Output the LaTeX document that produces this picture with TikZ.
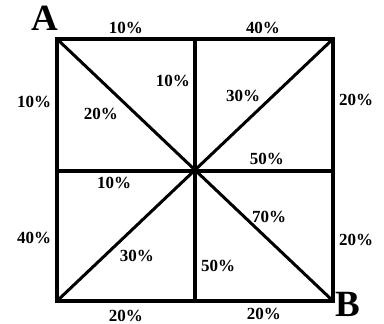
\documentclass[tikz,border=0pt]{standalone}
\usepackage{fontspec}
\setmainfont{Liberation Serif}
\begin{document}
\begin{tikzpicture}[x=1pt,y=-1pt,
  edge/.style={line width=4pt},
  diag/.style={line width=3pt},
  lbl/.style={font=\fontsize{17}{17}\selectfont\bfseries, inner sep=0pt},
  corner/.style={font=\fontsize{37}{37}\selectfont\bfseries, inner sep=0pt}]
\useasboundingbox (0,0) rectangle (384,324);
\coordinate (tl) at (57,39);
\coordinate (tr) at (333,39);
\coordinate (bl) at (57,301);
\coordinate (br) at (333,301);
\coordinate (c) at (195,171);
\coordinate (tm) at (195,39);
\coordinate (bm) at (195,301);
\coordinate (lm) at (57,171);
\coordinate (rm) at (333,171);
\draw[diag,line cap=round] (tl) -- (br);
\draw[diag,line cap=round] (bl) -- (tr);
\draw[edge] (tm) -- (bm);
\draw[edge] (lm) -- (rm);
\draw[edge,line join=miter] (tl) -- (tr) -- (br) -- (bl) -- cycle;
\node[corner] (A) at (45,18) {A};
\node[corner] (B) at (348,304) {B};
\node[lbl] (t1) at (126,28) {10\%};
\node[lbl] (t2) at (263,28) {40\%};
\node[lbl] (l1) at (34,102) {10\%};
\node[lbl] (l2) at (34,238) {40\%};
\node[lbl] (r1) at (356,100) {20\%};
\node[lbl] (r2) at (356,240) {20\%};
\node[lbl] (b1) at (126,316) {20\%};
\node[lbl] (b2) at (264,314) {20\%};
\node[lbl] (i1) at (173,81) {10\%};
\node[lbl] (i2) at (101,114) {20\%};
\node[lbl] (i3) at (243,96) {30\%};
\node[lbl] (i4) at (267,159) {50\%};
\node[lbl] (i5) at (114,183) {10\%};
\node[lbl] (i6) at (137,256) {30\%};
\node[lbl] (i7) at (269,217) {70\%};
\node[lbl] (i8) at (218,266) {50\%};
\end{tikzpicture}
\end{document}
